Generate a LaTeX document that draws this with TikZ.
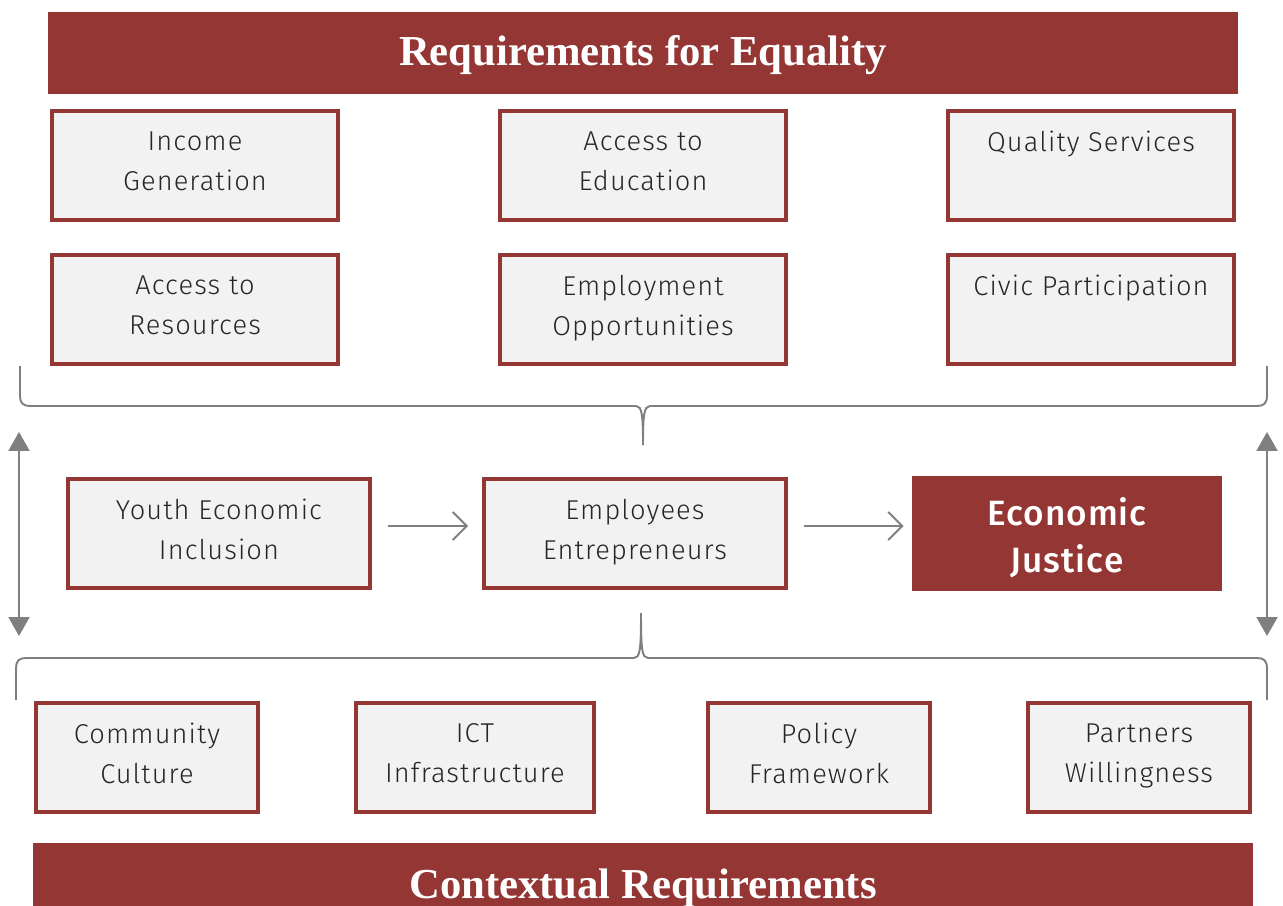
\documentclass[tikz,border=0pt]{standalone}
\usepackage{fontspec}
\setmainfont{Liberation Serif}
\newfontfamily\boxfont{Fira Sans Light}[LetterSpace=4]
\newfontfamily\goalfont{Fira Sans Medium}[LetterSpace=3]
\usetikzlibrary{arrows.meta,positioning}

\definecolor{eqred}{RGB}{148,54,52}
\definecolor{boxgray}{RGB}{242,242,242}
\definecolor{linegray}{RGB}{127,127,127}

\tikzset{
  banner/.style={fill=eqred, inner sep=0pt},
  bannertext/.style={text=white, font=\bfseries\fontsize{24.3}{28}\selectfont, inner sep=0pt},
  reqbox/.style={draw=eqred, fill=boxgray, line width=2.3pt, text=black!85, align=center,
    font=\boxfont\fontsize{15.5}{22.7}\selectfont, text depth=5pt, minimum height=2.18cm, inner sep=2pt},
  goalbox/.style={fill=eqred, text=white, align=center, text height=47pt,
    font=\goalfont\fontsize{20}{26.6}\selectfont, minimum width=6.2cm, minimum height=2.3cm},
  flow/.style={draw=linegray, line width=1.1pt, -{Straight Barb[length=8pt,width=16pt]}},
  vflow/.style={draw=linegray, line width=1pt, {Triangle[length=10.8pt,width=12pt]}-{Triangle[length=10.8pt,width=12pt]}},
  brace/.style={draw=linegray, line width=1.1pt}
}

\begin{document}
\begin{tikzpicture}[x=0.02cm, y=-0.02cm]
    \clip (0,0) rectangle (1283,905);

    % banners
    \node[banner, minimum width=23.8cm, minimum height=1.64cm] (eqband) at (643,53) {};
    \node[bannertext] (eqtitle) at (643,55) {Requirements for Equality};
    \node[banner, minimum width=24.4cm, minimum height=2.2cm] (ctxband) at (643,898) {};
    \node[bannertext, anchor=base] (ctxtitle) at (643,898) {Contextual Requirements};

    % requirements for equality
    \node[reqbox, minimum width=5.72cm] (income) at (195,165.5) {Income\\Generation};
    \node[reqbox, minimum width=5.72cm] (educ) at (643,165.5) {Access to\\Education};
    \node[reqbox, minimum width=5.72cm] (qual) at (1091,165.5) {Quality Services\\ ~};
    \node[reqbox, minimum width=5.72cm] (resrc) at (195,309.5) {Access to\\Resources};
    \node[reqbox, minimum width=5.72cm] (emplop) at (643,309.5) {Employment\\Opportunities};
    \node[reqbox, minimum width=5.72cm] (civic) at (1091,309.5) {Civic Participation\\ ~};

    % middle row
    \node[reqbox, minimum width=6.04cm] (youth) at (219,533.5) {Youth Economic\\Inclusion};
    \node[reqbox, minimum width=6.04cm] (empl) at (635,533.5) {Employees\\Entrepreneurs};
    \node[goalbox] (justice) at (1067,533.5) {Economic\\Justice};

    \draw[flow, shorten <=0.32cm, shorten >=0.28cm] ([yshift=0.15cm]youth.east) -- ([yshift=0.15cm]empl.west);
    \draw[flow, shorten <=0.32cm, shorten >=0.16cm] ([yshift=0.15cm]empl.east) -- ([yshift=0.15cm]justice.west);

    % contextual requirements
    \node[reqbox, minimum width=4.44cm] (comm) at (147,757.5) {Community\\Culture};
    \node[reqbox, minimum width=4.76cm] (ict) at (475,757.5) {ICT\\Infrastructure};
    \node[reqbox, minimum width=4.44cm] (policy) at (819,757.5) {Policy\\Framework};
    \node[reqbox, minimum width=4.44cm] (partn) at (1139,757.5) {Partners\\Willingness};

    % side arrows
    \coordinate (lup) at (19,432);
    \coordinate (ldown) at (19,636);
    \coordinate (rup) at (1267,432);
    \coordinate (rdown) at (1267,636);
    \draw[vflow] (lup) -- (ldown);
    \draw[vflow] (rup) -- (rdown);

    % braces
    \draw[brace] (20,366) -- (20,396) .. controls (20,403) and (23,406) .. (30,406) -- (636,406)
        .. controls (642,406) and (643,415) .. (643,445);
    \draw[brace] (1267,366) -- (1267,396) .. controls (1267,403) and (1264,406) .. (1257,406) -- (650,406)
        .. controls (644,406) and (643,415) .. (643,445);
    \draw[brace] (16,700) -- (16,668) .. controls (16,661) and (19,658) .. (26,658) -- (634,658)
        .. controls (640,658) and (641,650) .. (641,613);
    \draw[brace] (1267,700) -- (1267,668) .. controls (1267,661) and (1264,658) .. (1257,658) -- (648,658)
        .. controls (642,658) and (641,650) .. (641,613);
\end{tikzpicture}
\end{document}
